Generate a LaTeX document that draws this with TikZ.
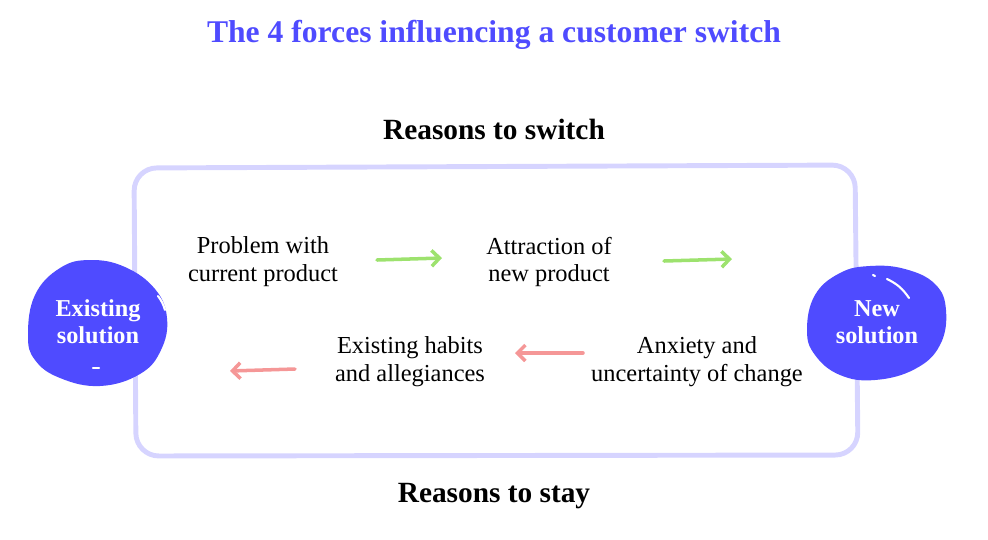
\documentclass[tikz,border=0pt]{standalone}
\usepackage{fontspec}
\setmainfont{Liberation Serif}
\usetikzlibrary{arrows.meta}
\definecolor{forceBlue}{HTML}{4F4BFF}
\definecolor{forceFrame}{HTML}{D6D4FF}
\definecolor{forceGreen}{HTML}{9DE26E}
\definecolor{forceRed}{HTML}{F59797}

\begin{document}
\begin{tikzpicture}[x=0.02cm, y=-0.02cm,
  every node/.style={inner sep=0pt},
  title/.style={font=\fontsize{18}{21}\selectfont\bfseries, text=forceBlue},
  heading/.style={font=\fontsize{16.7}{20}\selectfont\bfseries},
  force/.style={align=center, font=\fontsize{13.9}{15.9}\selectfont},
  solution/.style={align=center, text=white,
    font=\fontsize{13.8}{15.6}\selectfont\bfseries},
  blob/.style={fill=forceBlue},
  shine/.style={white, line width=1.2pt, line cap=round},
  frame/.style={forceFrame, line width=2.8pt, rounded corners=13pt},
  push/.style={-{Straight Barb[length=4.5pt, width=9pt]}, line width=2pt,
    line cap=round, forceGreen},
  pull/.style={push, forceRed},
]
\useasboundingbox (0,0) rectangle (988,539);

% Frame
\draw[frame] (134,168) -- (855,165) -- (858,455) -- (136,456) -- cycle;

% Blobs
\fill[blob] plot[smooth cycle, tension=0.7] coordinates {
  (28,335) (35,295) (60,268) (90,260) (125,267) (155,289) (167,318)
  (161,350) (140,374) (100,386) (60,378) (35,360)};
\fill[blob] plot[smooth cycle, tension=0.7] coordinates {
  (807,330) (815,295) (840,273) (870,266) (905,269) (935,284) (946,310)
  (940,345) (915,369) (875,380) (840,375) (815,355)};
\draw[shine] (158,296) to[bend left=10] (165,310);
\draw[shine] (93,368) -- (99,368);
\draw[shine] (887,279) to[bend left=15] (909,298);
\draw[shine] (873,275) -- (875,276);

% Texts
\node[title] (title) at (494,35) {The 4 forces influencing a customer switch};
\node[heading] (switch) at (494,129) {Reasons to switch};
\node[heading] (stay) at (494,496) {Reasons to stay};
\node[solution] (existing) at (98,322) {Existing\\solution};
\node[solution] (new) at (877,322) {New\\solution};
\node[force] (problem) at (263,262) {Problem with\\current product};
\node[force] (attraction) at (549,262) {Attraction of\\new product};
\node[force] (anxiety) at (697,362) {Anxiety and\\uncertainty of change};
\node[force] (habits) at (410,362) {Existing habits\\and allegiances};

% Arrows
\coordinate (p1) at (377,260);
\coordinate (p2) at (442,258);
\coordinate (a1) at (664,261);
\coordinate (a2) at (732,259);
\coordinate (x1) at (583,353);
\coordinate (x2) at (515,353);
\coordinate (h1) at (295,369);
\coordinate (h2) at (230,371);
\draw[push] (p1) -- (p2);
\draw[push] (a1) -- (a2);
\draw[pull] (x1) -- (x2);
\draw[pull] (h1) -- (h2);

\end{tikzpicture}
\end{document}
